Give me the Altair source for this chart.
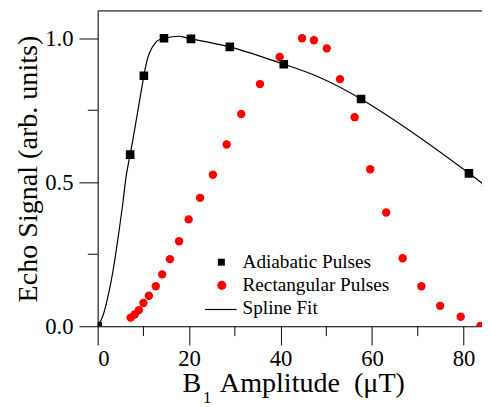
import altair as alt
import pandas as pd

# Adiabatic pulses (black squares)
adia_x = [0.0, 7.1, 10.1, 14.5, 20.4, 28.9, 40.7, 57.6, 81.2]
adia_y = [0.0, 0.596, 0.87, 1.0, 0.998, 0.97, 0.91, 0.789, 0.531]

# Spline fit curve
spline_x = [0.0, 1.2, 2.3, 3.3, 4.4, 5.5, 6.2, 7.1, 8.4, 10.1, 11.25, 12.7, 14.5,
            17.7, 20.4, 28.9, 40.7, 57.6, 81.2, 84.0]
spline_y = [0.0, 0.039, 0.107, 0.187, 0.301, 0.427, 0.518, 0.596, 0.712, 0.87, 0.946,
            0.986, 1.0, 1.007, 0.998, 0.97, 0.91, 0.789, 0.531, 0.49]

# Rectangular pulses (red circles)
rect_x = [7.2, 8.1, 9.0, 10.0, 11.2, 12.7, 14.1, 15.8, 17.8, 19.9, 22.4, 25.2, 28.2,
          31.4, 35.5, 39.8, 44.7, 47.3, 50.1, 53.0, 56.2, 59.6, 63.1, 66.7, 70.8,
          74.9, 79.4, 83.7]
rect_y = [0.030, 0.041, 0.056, 0.081, 0.106, 0.139, 0.180, 0.233, 0.295, 0.371, 0.446,
          0.526, 0.631, 0.737, 0.841, 0.935, 1.0, 0.993, 0.965, 0.858, 0.726, 0.545,
          0.395, 0.236, 0.139, 0.071, 0.033, 0.001]

x_major = [0, 20, 40, 60, 80]
x_minor = [10, 30, 50, 70]
y_major = [0.0, 0.5, 1.0]
y_minor = [0.25, 0.75]

legend_labels = ["Adiabatic Pulses", "Rectangular Pulses", "Spline Fit"]
x_title_parts = ["B", "1", "Amplitude\u00a0\u00a0(\u03bcT)"]
y_title = "Echo Signal (arb. units)"

FONT = "Liberation Serif"
W, H = 390, 320

adia = pd.DataFrame({"x": adia_x, "y": adia_y})
spl = pd.DataFrame({"x": spline_x, "y": spline_y})
rect = pd.DataFrame({"x": rect_x, "y": rect_y})

xs = alt.Scale(domain=[0, 84.05], nice=False, zero=False)
ys = alt.Scale(domain=[0, 1.095], nice=False, zero=False)

xaxis = alt.Axis(values=x_major, title=None, tickSize=19, labelFontSize=23,
                 labelFont=FONT, labelColor="black", tickColor="black",
                 domainColor="black", labelPadding=3, grid=False)
yaxis = alt.Axis(values=y_major, format=".1f", title=y_title, tickSize=19,
                 labelFontSize=23, labelFont=FONT, labelColor="black",
                 tickColor="black", domainColor="black", labelPadding=6,
                 titleFont=FONT, titleFontSize=28.5, titleFontWeight="normal",
                 titleColor="black", titlePadding=2, grid=False)

red = alt.Chart(rect).mark_circle(color="#ff0000", size=72, opacity=1, clip=True).encode(
    x=alt.X("x:Q", scale=xs, axis=xaxis),
    y=alt.Y("y:Q", scale=ys, axis=yaxis),
)
line = alt.Chart(spl).mark_line(color="black", strokeWidth=1.2, interpolate="natural", clip=True).encode(
    x=alt.X("x:Q", scale=xs), y=alt.Y("y:Q", scale=ys))
sq = alt.Chart(adia).mark_square(color="black", size=76, opacity=1, clip=True).encode(
    x=alt.X("x:Q", scale=xs), y=alt.Y("y:Q", scale=ys))

xmin = alt.Chart(pd.DataFrame({"v": x_minor})).mark_rule(color="black", strokeWidth=1).encode(
    x=alt.X("v:Q", scale=xs), y=alt.value(H), y2=alt.value(H + 10))
ymin = alt.Chart(pd.DataFrame({"v": y_minor})).mark_rule(color="black", strokeWidth=1).encode(
    y=alt.Y("v:Q", scale=ys), x=alt.value(-10), x2=alt.value(0))
top = alt.Chart(pd.DataFrame({"a": [0]})).mark_rule(color="black", strokeWidth=1).encode(
    y=alt.value(0), x=alt.value(0), x2=alt.value(W))

one = pd.DataFrame({"a": [0]})
leg_sq = alt.Chart(one).mark_square(color="black", size=50, opacity=1).encode(
    x=alt.value(125.5), y=alt.value(255))
leg_ci = alt.Chart(one).mark_circle(color="#ff0000", size=85, opacity=1).encode(
    x=alt.value(126), y=alt.value(278.5))
leg_ln = alt.Chart(one).mark_rule(color="black", strokeWidth=1.2).encode(
    x=alt.value(109), x2=alt.value(141), y=alt.value(303))
leg_txt = []
for lab, yy in zip(legend_labels, [261, 284, 308]):
    leg_txt.append(alt.Chart(one).mark_text(text=lab, font=FONT, fontSize=19.5, align="left",
                                            baseline="alphabetic", color="black").encode(
        x=alt.value(147), y=alt.value(yy)))

t_b = alt.Chart(one).mark_text(text=x_title_parts[0], font=FONT, fontSize=28.5, align="left",
                               baseline="alphabetic", color="black").encode(
    x=alt.value(86), y=alt.value(387))
t_1 = alt.Chart(one).mark_text(text=x_title_parts[1], font=FONT, fontSize=17, align="left",
                               baseline="alphabetic", color="black").encode(
    x=alt.value(107), y=alt.value(398))
t_rest = alt.Chart(one).mark_text(text=x_title_parts[2], font=FONT, fontSize=28.5, align="left",
                                  baseline="alphabetic", color="black").encode(
    x=alt.value(124), y=alt.value(387))

chart = alt.layer(red, line, sq, xmin, ymin, top, leg_sq, leg_ci, leg_ln, *leg_txt,
                  t_b, t_1, t_rest).properties(
    width=W, height=H,
    autosize=alt.AutoSizeParams(type="none"),
    padding={"left": 91, "top": 0, "right": 0, "bottom": 80},
).configure_view(stroke=None).configure(background="white")

chart.save("out.html", embed_options={"renderer": "svg", "actions": False})
